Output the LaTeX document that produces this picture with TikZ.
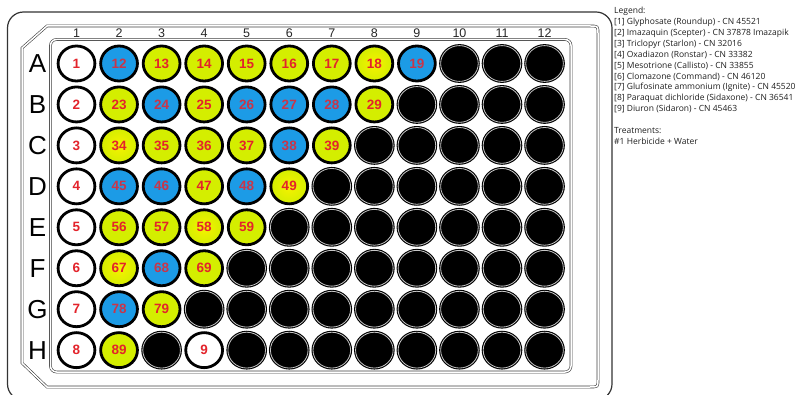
\documentclass[tikz,border=0pt]{standalone}
\usepackage{fontspec}
\setmainfont{Liberation Sans}
\newfontfamily\legendfont{Open Sans}
\usetikzlibrary{shapes.geometric}
\definecolor{wellblue}{HTML}{1C9BE6}
\definecolor{welllime}{HTML}{D4EE00}
\definecolor{wellyellow}{HTML}{F6F200}
\definecolor{numred}{HTML}{E3232B}
\definecolor{numredb}{HTML}{C93549}
\definecolor{legendgray}{HTML}{1E1E1E}
\begin{document}
\begin{tikzpicture}[x=1pt,y=-1pt,
  wellbase/.style={ellipse, minimum width=36.8pt, minimum height=35.0pt, inner sep=0pt,
    line width=2.8pt, draw=black, font=\fontsize{13.5}{13.5}\selectfont\bfseries, text=numred},
  wW/.style={wellbase, fill=white},
  wB/.style={wellbase, fill=wellblue, text=numredb},
  wL/.style={wellbase, fill=welllime},
  wY/.style={wellbase, shading=radial, inner color=wellyellow, outer color=welllime},
  wK/.style={ellipse, minimum width=37.6pt, minimum height=35.8pt, inner sep=0pt,
    line width=1.1pt, draw=black, double=gray!45, double distance=0.8pt, fill=black},
  plateline/.style={draw=black!75, line width=0.6pt, double=white, double distance=1.5pt},
  rowlab/.style={font=\fontsize{26}{26}\selectfont, inner sep=0pt},
  collab/.style={font=\fontsize{12.5}{12.5}\selectfont, inner sep=0pt, text=black!85},
  legtext/.style={anchor=mid west, inner sep=0pt, font=\legendfont\fontsize{8.5}{8.5}\selectfont, text=legendgray}
]
\useasboundingbox (0,0) rectangle (798,395);
% plate outlines
\draw[line width=1.2pt, draw=black!80, rounded corners=16pt] (7.5,12) rectangle (612,400);
\draw[plateline] (22,48) -- (47,26) -- (590,26) .. controls (598,26) .. (598,34)
  -- (598,379) .. controls (598,387) .. (590,387) -- (47,387) -- (22,363) -- cycle;
\draw[plateline, rounded corners=6pt] (50.5,39.5) rectangle (571,372);
% column labels
\foreach \c in {1,...,12}
  \node[collab] (cl-\c) at ({76.5+(\c-1)*42.55},33) {\c};
% row labels
\foreach \r/\l in {1/A,2/B,3/C,4/D,5/E,6/F,7/G,8/H}
  \node[rowlab] (rl-\l) at (37.5,{63.5+(\r-1)*40.95}) {\l};
% black wells
\foreach \r/\s in {1/10,2/9,3/8,4/7,5/6,6/5,7/4,8/5}
  \foreach \c in {\s,...,12}
    \node[wK] (w-\r-\c) at ({76.5+(\c-1)*42.55},{63.5+(\r-1)*40.95}) {};
\node[wK] (w-8-3) at ({76.5+2*42.55},{63.5+7*40.95}) {};
% labelled wells
\foreach \r/\c/\n/\t in {
  1/1/1/wW, 1/2/12/wB, 1/3/13/wL, 1/4/14/wL, 1/5/15/wL, 1/6/16/wL, 1/7/17/wL, 1/8/18/wY, 1/9/19/wB,
  2/1/2/wW, 2/2/23/wL, 2/3/24/wB, 2/4/25/wL, 2/5/26/wB, 2/6/27/wB, 2/7/28/wB, 2/8/29/wL,
  3/1/3/wW, 3/2/34/wY, 3/3/35/wL, 3/4/36/wL, 3/5/37/wL, 3/6/38/wB, 3/7/39/wL,
  4/1/4/wW, 4/2/45/wB, 4/3/46/wB, 4/4/47/wL, 4/5/48/wB, 4/6/49/wY,
  5/1/5/wW, 5/2/56/wL, 5/3/57/wL, 5/4/58/wY, 5/5/59/wL,
  6/1/6/wW, 6/2/67/wY, 6/3/68/wB, 6/4/69/wL,
  7/1/7/wW, 7/2/78/wB, 7/3/79/wL,
  8/1/8/wW, 8/2/89/wL, 8/4/9/wW}
  \node[\t] (w-\r-\c) at ({76.5+(\c-1)*42.55},{63.5+(\r-1)*40.95}) {\n};
% legend
\node[legtext] (leg-title) at (614,11) {Legend:};
\node[legtext] (leg-1) at (614,21.9) {[1] Glyphosate (Roundup) - CN 45521};
\node[legtext] (leg-2) at (614,32.8) {[2] Imazaquin (Scepter) - CN 37878 Imazapik};
\node[legtext] (leg-3) at (614,43.7) {[3] Triclopyr (Starlon) - CN 32016};
\node[legtext] (leg-4) at (614,54.6) {[4] Oxadiazon (Ronstar) - CN 33382};
\node[legtext] (leg-5) at (614,65.5) {[5] Mesotrione (Callisto) - CN 33855};
\node[legtext] (leg-6) at (614,76.4) {[6] Clomazone (Command) - CN 46120};
\node[legtext] (leg-7) at (614,87.3) {[7] Glufosinate ammonium (Ignite) - CN 45520};
\node[legtext] (leg-8) at (614,98.2) {[8] Paraquat dichloride (Sidaxone) - CN 36541};
\node[legtext] (leg-9) at (614,109.1) {[9] Diuron (Sidaron) - CN 45463};
\node[legtext] (leg-treat) at (614,130.9) {Treatments:};
\node[legtext] (leg-t1) at (614,141.8) {\#1 Herbicide + Water};
\end{tikzpicture}
\end{document}
